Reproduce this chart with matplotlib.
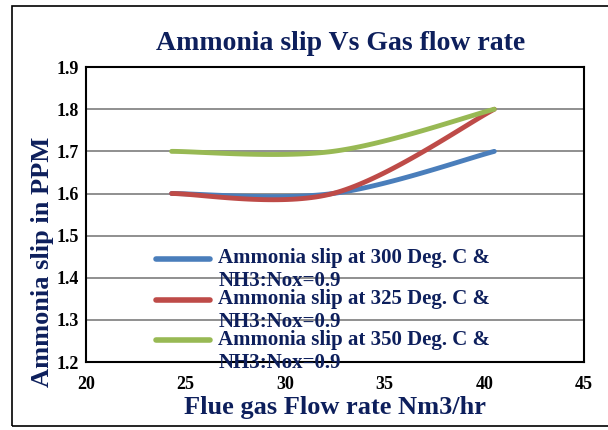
import numpy as np
import matplotlib
matplotlib.use("Agg")
from matplotlib import pyplot as plt
from matplotlib.patches import Rectangle

# data
flow_rate = [24.3, 32.4, 40.5]
slip_300 = [1.6, 1.6, 1.7]
slip_325 = [1.6, 1.6, 1.8]
slip_350 = [1.7, 1.7, 1.8]
labels = ["Ammonia slip at 300 Deg. C &\nNH3:Nox=0.9",
          "Ammonia slip at 325 Deg. C &\nNH3:Nox=0.9",
          "Ammonia slip at 350 Deg. C &\nNH3:Nox=0.9"]
colors = ["#4A7EBB", "#BE4B48", "#98B954"]

navy = "#0D1F5C"
plt.rcParams['font.family'] = ['Liberation Serif', 'DejaVu Serif']
plt.rcParams['font.weight'] = 'bold'


def excel_smooth(x, y, n=40):
    """Bezier smoothing similar to Excel's 'smoothed line'."""
    p = np.column_stack([x, y]).astype(float)
    pts = np.vstack([p[0], p, p[-1]])
    out = []
    for i in range(1, len(pts) - 2):
        p0, p1, p2, p3 = pts[i - 1], pts[i], pts[i + 1], pts[i + 2]
        c1 = p1 + (p2 - p0) / 6
        c2 = p2 - (p3 - p1) / 6
        t = np.linspace(0, 1, n)[:, None]
        seg = ((1 - t) ** 3) * p1 + 3 * ((1 - t) ** 2) * t * c1 + 3 * (1 - t) * t ** 2 * c2 + t ** 3 * p2
        out.append(seg if i == 1 else seg[1:])
    out = np.vstack(out)
    return out[:, 0], out[:, 1]


fig = plt.figure(figsize=(6.08, 4.3), dpi=100)
ax = fig.add_axes([0.1414, 0.158, 0.819, 0.686])

for ys, c, lab in zip([slip_300, slip_325, slip_350], colors, labels):
    xs, yy = excel_smooth(flow_rate, ys)
    ax.plot(xs, yy, color=c, lw=3.5, solid_capstyle='round', label=lab)

ax.set_xlim(20, 45)
ax.set_ylim(1.2, 1.9)
ax.set_xticks(np.arange(20, 46, 5))
ax.set_yticks(np.arange(1.2, 1.91, 0.1))
ax.set_yticklabels([f"{v:.1f}" for v in np.arange(1.2, 1.91, 0.1)])
ax.tick_params(length=0, labelsize=13)
ax.tick_params(axis='x', pad=10)
ax.tick_params(axis='y', pad=5)
ax.grid(axis='y', color='#878787', lw=1.3)
ax.set_axisbelow(True)
for s in ax.spines.values():
    s.set_linewidth(1.5)
    s.set_color('black')

fig.text(341 / 608, 1 - 43 / 430, "Ammonia slip Vs Gas flow rate", color=navy,
         fontsize=20, fontweight='bold', ha='center', va='center')
ax.set_xlabel("Flue gas Flow rate Nm3/hr", color=navy, fontsize=19,
              fontweight='bold', labelpad=2)
fig.text(42 / 608, 1 - 262 / 430, "Ammonia slip in PPM", color=navy, fontsize=19,
         fontweight='bold', rotation=90, ha='center', va='center')

leg = ax.legend(loc='upper left', bbox_to_anchor=(156 / 608, 1 - 248 / 430),
                bbox_transform=fig.transFigure, frameon=False,
                fontsize=15, handlelength=2.6, handletextpad=0.4,
                labelspacing=-0.1, borderpad=0, borderaxespad=0)
for t in leg.get_texts():
    t.set_color(navy)
# Excel puts the legend key next to the first line of a wrapped label
for h in leg.get_lines():
    h.set_linewidth(4)
    h.set_ydata(np.asarray(h.get_ydata()) + 8)

fig.patches.append(Rectangle((12 / 608, 4 / 430), 1.0, 420 / 430,
                             transform=fig.transFigure, fill=False,
                             edgecolor='black', lw=1.2))

fig.savefig("out.png", dpi=100)
